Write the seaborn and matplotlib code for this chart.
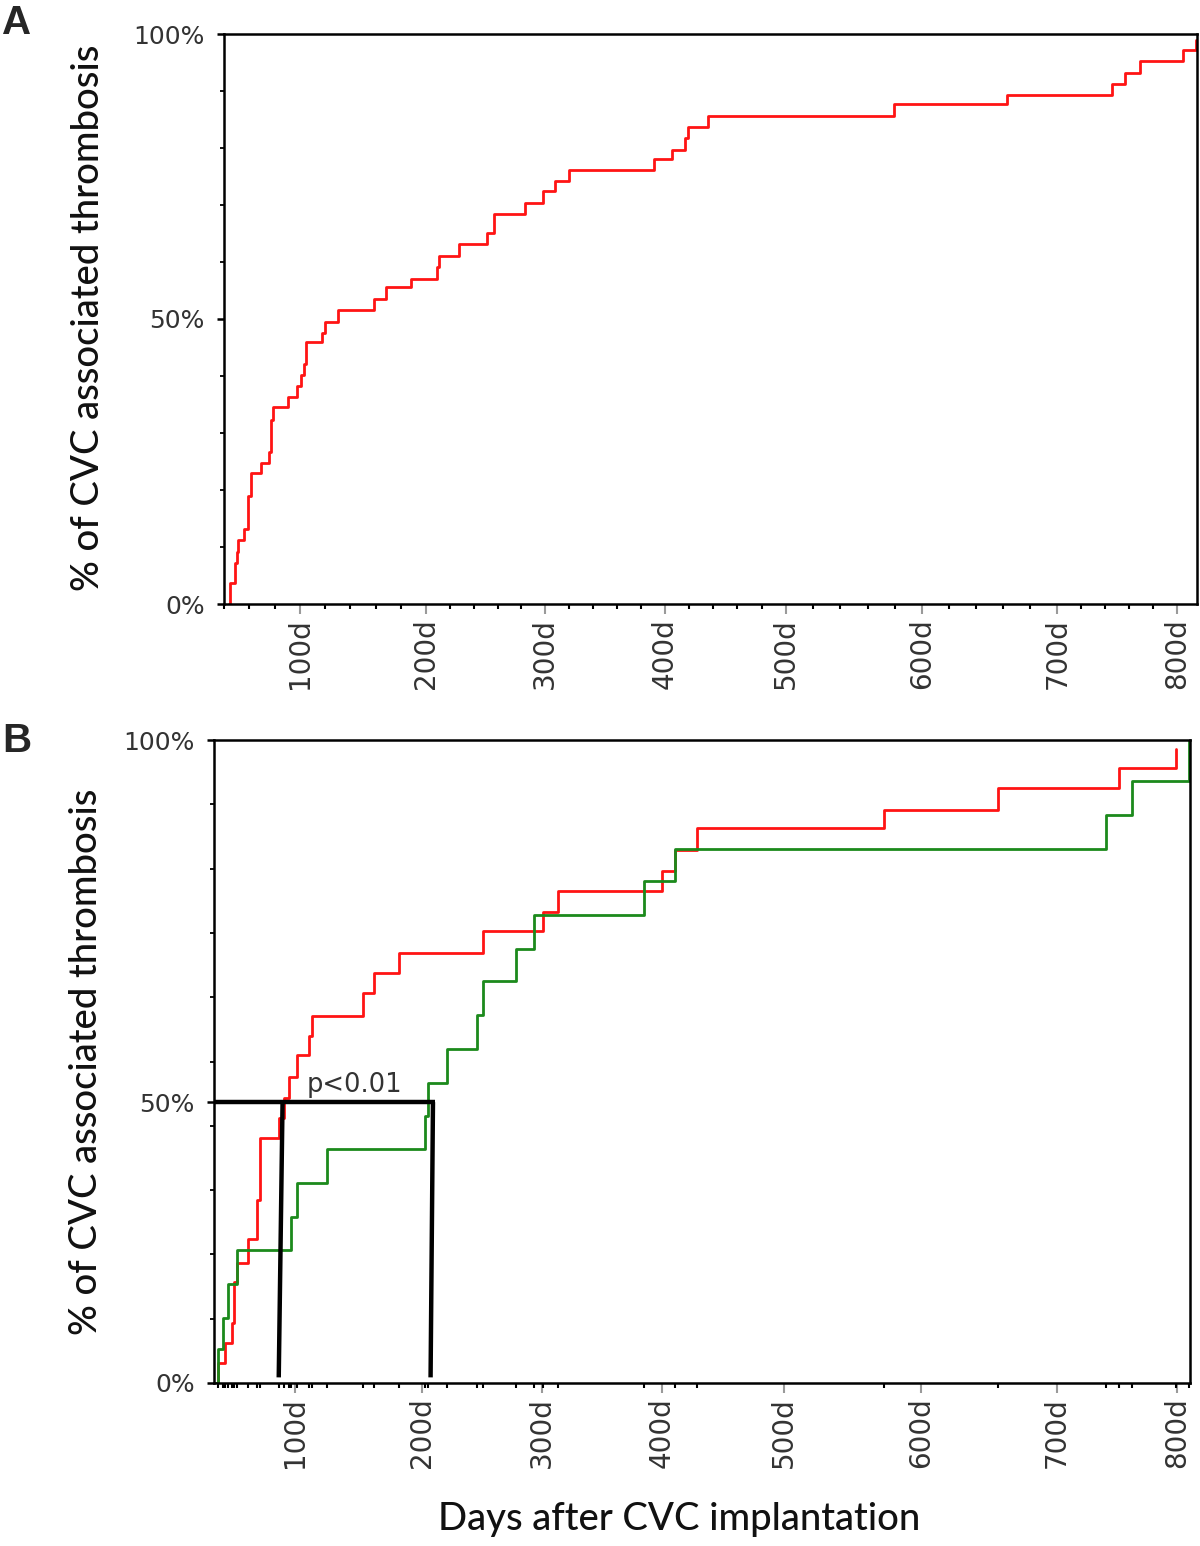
import numpy as np
import matplotlib
matplotlib.use("Agg")
import matplotlib.pyplot as plt
import seaborn as sns

# --- data (days after implantation, cumulative % thrombosis) ---
# panel A: all catheters
a_days = [44, 45, 49, 50, 51, 56, 59, 61, 69, 76, 77, 79, 91, 98, 101, 103, 105, 118, 120, 130,
          159, 168, 188, 209, 211, 228, 251, 257, 283, 298, 308, 320, 391, 406, 417, 419, 436, 579, 663, 746,
          757, 769, 805, 816]
a_pct = [0, 3.7, 7.2, 9.2, 11.2, 13.1, 18.9, 22.9, 24.8, 26.6, 32.3, 34.5, 36.4, 38.2, 40.1, 42.1, 45.9, 47.6, 49.5, 51.5,
         53.5, 55.6, 57.1, 59.1, 61.1, 63.1, 65.1, 68.4, 70.4, 72.4, 74.2, 76.1, 78.1, 79.7, 81.8, 83.7, 85.7, 87.7, 89.3, 91.3,
         93.2, 95.2, 97.2, 99.0]

# panel B: red and green groups
b_red_days = [37, 39, 45, 50, 52, 54, 63, 70, 72, 87, 91, 95, 101, 111, 113, 153, 162, 182, 251, 301,
              313, 400, 411, 429, 573, 657, 752, 799]
b_red_pct = [0, 3.6, 7.1, 10.7, 17.9, 21.4, 25.6, 32.5, 43.7, 47.2, 50.6, 53.5, 56.5, 59.2, 61.9, 65.1, 67.8, 70.6, 73.6, 76.3,
             79.1, 81.9, 84.8, 87.8, 90.4, 93.4, 96.2, 98.8]
b_green_days = [37, 39, 43, 47, 54, 97, 101, 125, 202, 205, 221, 246, 251, 278, 293, 385, 411, 741, 763, 810]
b_green_pct = [0, 6.0, 11.5, 17.7, 23.6, 29.6, 35.7, 41.7, 47.6, 52.6, 57.4, 62.0, 66.8, 71.2, 75.9, 80.6, 85.0, 89.7, 94.4, 100]

# hand drawn median markers in B (top at 50 %, bottom near 0 %)
median_top_days = [90, 209]
median_bottom_days = [87, 207]
median_pct = 50
p_text = "p<0.01"

tick_days = [100, 200, 300, 400, 500, 600, 700, 800]
tick_labels = ["100d", "200d", "300d", "400d", "500d", "600d", "700d", "800d"]
y_ticks = [0, 50, 100]
y_tick_labels = ["0%", "50%", "100%"]

# the time axis of the original is not evenly spaced: piecewise mapping days -> position
kd = [-1000, 0, 100, 200, 300, 400, 500, 600, 700, 800, 3000]
kp = [168 - 1270, 168, 295, 422, 542, 662, 784, 921, 1057, 1177, 1177 + 2640]


def x_fwd(d):
    return np.interp(np.asarray(d, float), kd, kp)


def x_inv(p):
    return np.interp(np.asarray(p, float), kp, kd)


# panel B: "50%" sits at 43.7 % of the axis height in the original
bv = [-100, 0, 50, 100, 200]
bf = [-0.8734, 0, 0.4367, 1, 2.1266]


def yb_fwd(v):
    return np.interp(np.asarray(v, float), bv, bf)


def yb_inv(f):
    return np.interp(np.asarray(f, float), bf, bv)


sns.set_style("white")
plt.rcParams["font.family"] = ["DejaVu Sans"]

W, H = 1200, 1546
fig = plt.figure(figsize=(W / 100, H / 100), dpi=100)


def add_ax(left, right, top, bottom):
    return fig.add_axes([left / W, 1 - bottom / H, (right - left) / W, (bottom - top) / H])


ax_a = add_ax(224, 1197, 34, 604)
ax_b = add_ax(214, 1190, 740, 1383)

red = "#ff1414"
green = "#1c8a1c"
sns.lineplot(x=a_days, y=a_pct, ax=ax_a, color=red, linewidth=2.0,
             drawstyle="steps-post", estimator=None)
sns.lineplot(x=b_red_days, y=b_red_pct, ax=ax_b, color=red, linewidth=2.0,
             drawstyle="steps-post", estimator=None)
sns.lineplot(x=b_green_days, y=b_green_pct, ax=ax_b, color=green, linewidth=2.0,
             drawstyle="steps-post", estimator=None)

ax_b.set_yscale("function", functions=(yb_fwd, yb_inv))

label_font = dict(fontfamily="Lato", fontsize=27.5, fontweight="medium", color="#111111")

for ax, xlim in [(ax_a, (44, 817)), (ax_b, (36, 811))]:
    ax.set_xscale("function", functions=(x_fwd, x_inv))
    ax.set_xlim(*xlim)
    ax.set_ylim(0, 100)
    ax.set_xticks(tick_days, tick_labels, rotation=90, fontsize=20, color="#333333")
    ax.set_yticks(y_ticks, y_tick_labels, fontsize=18, color="#333333")
    ax.tick_params(which="both", bottom=True, left=True, top=False, right=False)
    ax.tick_params(axis="x", which="major", length=7, width=1.5, color="#9a9a9a", pad=3, direction="out")
    ax.tick_params(axis="x", which="minor", length=3.5, width=1.5, color="black", direction="out")
    ax.tick_params(axis="y", which="major", length=5, width=1.8, color="black", pad=9, direction="out")
    ax.tick_params(axis="y", which="minor", length=3, width=1.3, color="black", direction="out")
    for s in ax.spines.values():
        s.set_color("black")
        s.set_linewidth(1.8)
    ax.set_ylabel("% of CVC associated thrombosis", **label_font)
    ax.set_xlabel("")

# both y labels sit at the same page position in the original
ax_a.yaxis.set_label_coords(106 / W, 1 - 318 / H, transform=fig.transFigure)
ax_b.yaxis.set_label_coords(104 / W, 1 - 1062 / H, transform=fig.transFigure)

ax_a.set_xticks(np.arange(40, 820, 20), minor=True)
ax_a.set_yticks(np.arange(10, 100, 10), minor=True)
ax_b.set_xticks(sorted(set(b_red_days[1:] + b_green_days[1:])), minor=True)
ax_b.set_yticks(yb_inv(np.linspace(0.1, 0.9, 9)), minor=True)

# median lines and p value
x_left = ax_b.get_xlim()[0]
ax_b.plot([x_left, max(median_top_days) + 2], [median_pct, median_pct], color="black", lw=3.2,
          solid_capstyle="butt", zorder=5)
for top, bot in zip(median_top_days, median_bottom_days):
    ax_b.plot([top, bot], [median_pct, 1.0], color="black", lw=3.2, solid_capstyle="butt", zorder=5)
ax_b.text(147, 50.6, p_text, ha="center", va="bottom", fontsize=18.5, color="#333333")

ax_b.set_xlabel("Days after CVC implantation", **label_font)
ax_b.xaxis.set_label_coords(0.477, -0.185)

fig.text(2 / W, 1 - 4 / H, "A", ha="left", va="top", fontsize=29, fontweight="bold",
         fontfamily="Liberation Sans")
fig.text(2 / W, 1 - 722 / H, "B", ha="left", va="top", fontsize=29, fontweight="bold",
         fontfamily="Liberation Sans")

fig.savefig("out.png", dpi=100, facecolor="white")
